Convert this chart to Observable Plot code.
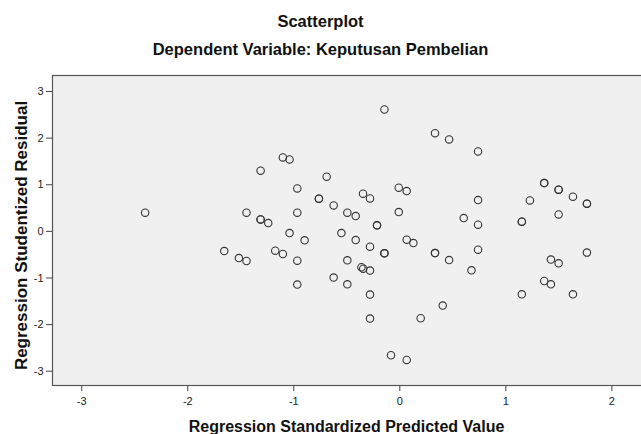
<!DOCTYPE html>
<html>
<head>
<meta charset="utf-8">
<script src="https://cdn.jsdelivr.net/npm/d3@7"></script>
<script src="https://cdn.jsdelivr.net/npm/@observablehq/plot@0.6"></script>
<style>
  html, body { margin: 0; padding: 0; background: #fff; overflow: hidden; }
  #wrap { position: relative; width: 641px; height: 434px; overflow: hidden; font-family: "Liberation Sans", Arial, sans-serif; }
  .t { position: absolute; left: 0; width: 641px; text-align: center; font-weight: bold; font-size: 16.5px; line-height: 22px; height: 22px; color: #111; }
  #chart { position: absolute; left: 0; top: 62px; }
</style>
</head>
<body>
<div id="wrap">
  <div class="t" style="top:10px">Scatterplot</div>
  <div class="t" style="top:38px">Dependent Variable: Keputusan Pembelian</div>
  <div id="chart"></div>
</div>
<script>
// Regression Standardized Predicted Value (x) and Studentized Residual (y)
const predicted = [
  -2.402, -1.446, -1.313, -1.103, -1.040, -1.313, -1.313, -1.241, -0.967, -0.967,
  -0.690, -0.763, -0.763, -0.624, -0.495, -1.040, -0.898, -0.551, -1.656, -1.518,
  -1.446, -1.175, -1.103, -0.967, -0.495, -0.624, -0.967, -0.495, -0.145, 0.332,
  0.465, 0.738, -0.416, -0.347, -0.281, -0.010, 0.065, -0.010, -0.215, -0.215,
  0.603, 0.738, 0.738, 1.227, 1.362, 1.362, 1.498, 1.498, 1.633, 1.765,
  1.765, 1.498, 1.151, 1.151, -0.416, -0.281, -0.145, -0.145, 0.065, 0.128,
  0.332, 0.332, 0.465, 0.738, 0.676, -0.362, -0.345, -0.281, -0.281, -0.281,
  0.197, 0.405, -0.083, 0.065, 1.425, 1.498, 1.765, 1.362, 1.425, 1.151,
  1.633
];
const residual = [
  0.401, 0.401, 1.301, 1.586, 1.543, 0.257, 0.257, 0.178, 0.921, 0.401,
  1.172, 0.701, 0.701, 0.557, 0.401, -0.036, -0.193, -0.036, -0.422, -0.572,
  -0.636, -0.414, -0.486, -0.628, -0.621, -0.992, -1.142, -1.136, 2.614, 2.106,
  1.971, 1.714, 0.328, 0.808, 0.707, 0.936, 0.864, 0.414, 0.129, 0.129,
  0.285, 0.671, 0.144, 0.664, 1.035, 1.035, 0.894, 0.894, 0.744, 0.594,
  0.594, 0.364, 0.208, 0.208, -0.186, -0.328, -0.471, -0.471, -0.178, -0.251,
  -0.465, -0.465, -0.615, -0.392, -0.836, -0.770, -0.800, -0.842, -1.356, -1.871,
  -1.864, -1.592, -2.657, -2.758, -0.606, -0.686, -0.456, -1.065, -1.136, -1.350,
  -1.350
];
const xTicks = [-3, -2, -1, 0, 1, 2];
const yTicks = [-3, -2, -1, 0, 1, 2, 3];
const xTitle = "Regression Standardized Predicted Value";
const yTitle = "Regression Studentized Residual";

const points = predicted.map((p, i) => ({p, r: residual[i]}));
const fmt = d => String(d);
const font = '"Liberation Sans", Arial, sans-serif';

const chart = Plot.plot({
  width: 641,
  height: 372,
  marginTop: 13,
  marginBottom: 49,
  marginLeft: 52,
  marginRight: -3,
  style: {fontFamily: font, fontSize: "11px", color: "#222", background: "transparent", overflow: "visible"},
  x: {domain: [-3.276, 2.308], label: null},
  y: {domain: [-3.306, 3.343], label: null},
  marks: [
    Plot.frame({fill: "#f0f0f0", stroke: null}),
    Plot.axisX({ticks: xTicks, tickFormat: fmt, tickSize: 6, tickPadding: 6, label: null, stroke: "#444"}),
    Plot.axisY({ticks: yTicks, tickFormat: fmt, tickSize: 6, tickPadding: 3, label: null, stroke: "#444"}),
    Plot.frame({stroke: "#555", strokeWidth: 1.2}),
    Plot.dot(points, {x: "p", y: "r", r: 3.7, stroke: "#333", strokeWidth: 1.1, fill: "none"}),
    Plot.text([xTitle], {frameAnchor: "bottom", textAnchor: "middle", lineAnchor: "middle", dx: -2, dy: 41, fontWeight: "bold", fontSize: 16, fill: "#111", text: d => d}),
    Plot.text([yTitle], {frameAnchor: "left", textAnchor: "middle", lineAnchor: "middle", rotate: -90, dx: -31, dy: 5, fontWeight: "bold", fontSize: 17, fill: "#111", text: d => d})
  ]
});
document.getElementById("chart").appendChild(chart);
</script>
</body>
</html>
